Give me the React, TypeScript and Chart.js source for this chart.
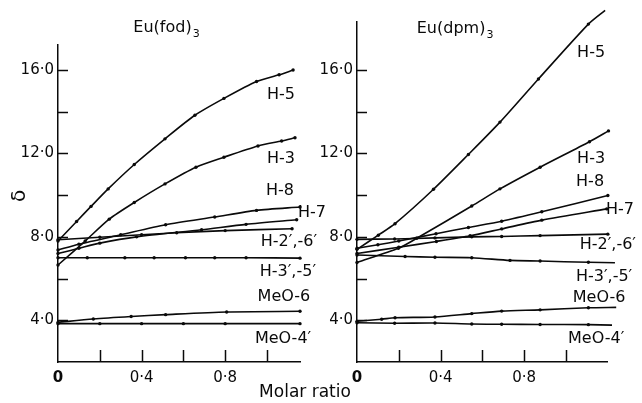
import React, { useEffect, useRef } from 'react';
import { Chart, registerables } from 'chart.js';
Chart.register(...registerables);

// ---------- series names ----------
const SERIES = ['H-5', 'H-3', 'H-8', 'H-7', 'H-2′,-6′', 'H-3′,-5′', 'MeO-6', 'MeO-4′'];

// ---------- Eu(fod)3 panel data: [molar ratio, delta] ----------
const FOD_H5: [number, number][] = [[0, 7.8], [0.089, 8.74], [0.158, 9.46], [0.24, 10.3], [0.365, 11.47], [0.512, 12.7], [0.655, 13.83], [0.794, 14.64], [0.95, 15.45], [1.058, 15.77], [1.125, 16.0]];
const FOD_H3: [number, number][] = [[0, 6.65], [0.13, 7.8], [0.245, 8.85], [0.365, 9.65], [0.512, 10.54], [0.66, 11.34], [0.794, 11.82], [0.957, 12.36], [1.07, 12.6], [1.134, 12.75]];
const FOD_H8: [number, number][] = [[0, 7.37], [0.1, 7.65], [0.3, 8.1], [0.515, 8.58], [0.75, 8.95], [0.95, 9.27], [1.158, 9.43]];
const FOD_H7: [number, number][] = [[0, 7.2], [0.1, 7.45], [0.2, 7.7], [0.376, 8.0], [0.687, 8.34], [0.9, 8.6], [1.142, 8.82]];
const FOD_H26: [number, number][] = [[0, 7.86], [0.2, 7.98], [0.4, 8.1], [0.568, 8.2], [0.8, 8.3], [1.12, 8.39]];
const FOD_H35: [number, number][] = [[0, 7.0], [0.14, 7.0], [0.32, 7.0], [0.46, 7.0], [0.61, 7.0], [0.75, 7.0], [0.9, 7.0], [1.158, 6.98]];
const FOD_MEO6: [number, number][] = [[0, 3.9], [0.169, 4.06], [0.35, 4.18], [0.515, 4.27], [0.807, 4.4], [1.158, 4.43]];
const FOD_MEO4: [number, number][] = [[0, 3.84], [0.2, 3.84], [0.4, 3.84], [0.6, 3.84], [0.8, 3.84], [1.158, 3.84]];

// ---------- Eu(dpm)3 panel data ----------
const DPM_H5: [number, number][] = [[0, 7.4], [0.102, 8.08], [0.182, 8.63], [0.366, 10.28], [0.533, 11.95], [0.684, 13.5], [0.868, 15.57], [1.107, 18.2], [1.187, 18.86]];
const DPM_H3: [number, number][] = [[0, 6.77], [0.198, 7.45], [0.286, 7.93], [0.549, 9.48], [0.684, 10.3], [0.876, 11.34], [1.112, 12.56], [1.203, 13.08]];
const DPM_H8: [number, number][] = [[0, 7.45], [0.1, 7.62], [0.2, 7.8], [0.378, 8.15], [0.533, 8.45], [0.692, 8.75], [0.884, 9.2], [1.2, 9.98]];
const DPM_H7: [number, number][] = [[0, 7.2], [0.2, 7.5], [0.38, 7.78], [0.541, 8.05], [0.692, 8.38], [0.884, 8.8], [1.195, 9.34]];
const DPM_H26: [number, number][] = [[0, 7.88], [0.18, 7.9], [0.373, 7.95], [0.549, 8.0], [0.692, 8.02], [0.876, 8.06], [1.2, 8.13]];
const DPM_H35: [number, number][] = [[0, 7.13], [0.23, 7.06], [0.373, 7.02], [0.549, 7.0], [0.732, 6.87], [0.876, 6.84], [1.107, 6.78], [1.234, 6.76]];
const DPM_MEO6: [number, number][] = [[0, 3.95], [0.118, 4.05], [0.182, 4.12], [0.373, 4.16], [0.549, 4.32], [0.692, 4.44], [0.876, 4.5], [1.107, 4.6], [1.24, 4.62]];
const DPM_MEO4: [number, number][] = [[0, 3.88], [0.18, 3.86], [0.373, 3.87], [0.549, 3.82], [0.692, 3.81], [0.876, 3.8], [1.107, 3.79], [1.22, 3.77]];

// ---------- ticks ----------
const Y_LABEL_TICKS = [4, 8, 12, 16];
const Y_MARK_TICKS = [4, 6, 8, 10, 12, 14, 16];
const X_LABEL_TICKS = [0, 0.4, 0.8];
const X_MARK_TICKS = [0.2, 0.4, 0.6, 0.8, 1.0];

// ---------- label anchors (data coords) ----------
const FOD_LABEL_X = [1.067, 1.067, 1.062, 1.215, 1.105, 1.1, 1.081, 1.077];
const FOD_LABEL_Y = [14.82, 11.74, 10.2, 9.14, 7.75, 6.31, 5.11, 3.13];
const DPM_LABEL_X = [1.12, 1.12, 1.115, 1.258, 1.2, 1.182, 1.158, 1.144];
const DPM_LABEL_Y = [16.84, 11.74, 10.63, 9.29, 7.6, 6.07, 5.06, 3.13];

const FONT = '"DejaVu Sans", sans-serif';
const INK = '#0a0a0a';

interface Panel {
  key: string;
  title: string;
  series: [number, number][][];
  xMax: number;
  yMax: number;
  padding: { left: number; right: number; top: number; bottom: number };
  labelX: number[];
  labelY: number[];
  titleX: number;
  titleY: number;
  extras: boolean;
}

const PANELS: Panel[] = [
  {
    key: 'fod', title: 'Eu(fod)',
    series: [FOD_H5, FOD_H3, FOD_H8, FOD_H7, FOD_H26, FOD_H35, FOD_MEO6, FOD_MEO4],
    xMax: 1.158, yMax: 17.2,
    padding: { left: 0, right: 342, top: 45, bottom: 0 },
    labelX: FOD_LABEL_X, labelY: FOD_LABEL_Y, titleX: 0.5, titleY: 18.04, extras: true,
  },
  {
    key: 'dpm', title: 'Eu(dpm)',
    series: [DPM_H5, DPM_H3, DPM_H8, DPM_H7, DPM_H26, DPM_H35, DPM_MEO6, DPM_MEO4],
    xMax: 1.196, yMax: 18.3,
    padding: { left: 299, right: 35, top: 22, bottom: 0 },
    labelX: DPM_LABEL_X, labelY: DPM_LABEL_Y, titleX: 0.45, titleY: 17.99, extras: false,
  },
];

function fmt(v: number): string {
  if (v === 0) return '0';
  return v.toFixed(1).replace('.', '·');
}

function makeChart(canvas: HTMLCanvasElement, p: Panel) {
  const annot = {
    id: 'annot_' + p.key,
    afterDraw(chart: any) {
      const { ctx, chartArea, scales } = chart;
      const xs = scales.x, ys = scales.y;
      ctx.save();
      ctx.strokeStyle = INK;
      ctx.lineWidth = 1.5;
      for (const v of Y_MARK_TICKS) {
        const py = Math.round(ys.getPixelForValue(v)) + 0.5;
        ctx.beginPath();
        ctx.moveTo(chartArea.left, py);
        ctx.lineTo(chartArea.left + 10, py);
        ctx.stroke();
      }
      for (const v of X_MARK_TICKS) {
        const px = Math.round(xs.getPixelForValue(v)) + 0.5;
        ctx.beginPath();
        ctx.moveTo(px, chartArea.bottom);
        ctx.lineTo(px, chartArea.bottom - 12);
        ctx.stroke();
      }
      ctx.fillStyle = INK;
      ctx.textAlign = 'center';
      ctx.textBaseline = 'middle';
      ctx.font = '16px ' + FONT;
      SERIES.forEach((t, i) => {
        ctx.fillText(t, xs.getPixelForValue(p.labelX[i]), ys.getPixelForValue(p.labelY[i]));
      });
      // title with subscript
      const tx = xs.getPixelForValue(p.titleX);
      const ty = ys.getPixelForValue(p.titleY);
      ctx.font = '16px ' + FONT;
      const w = ctx.measureText(p.title).width;
      ctx.textAlign = 'left';
      ctx.fillText(p.title, tx - w / 2, ty);
      ctx.font = '11px ' + FONT;
      ctx.fillText('3', tx + w / 2 + 1, ty + 7);
      if (p.extras) {
        ctx.font = '17px ' + FONT;
        ctx.textAlign = 'center';
        ctx.fillText('Molar ratio', chartArea.right + 5, chartArea.bottom + 31);
        ctx.save();
        ctx.translate(20, 196);
        ctx.rotate(-Math.PI / 2);
        ctx.font = '20px ' + FONT;
        ctx.fillText('δ', 0, 0);
        ctx.restore();
      }
      ctx.restore();
    },
  };

  return new Chart(canvas, {
    type: 'line',
    data: {
      datasets: p.series.map((s, i) => ({
        label: SERIES[i],
        data: s.map(([x, y]) => ({ x, y })),
        borderColor: INK,
        backgroundColor: INK,
        borderWidth: 1.6,
        pointRadius: 1.7,
        pointBorderWidth: 0,
        pointBackgroundColor: INK,
        tension: 0.25,
        clip: false as any,
        fill: false,
      })),
    },
    options: {
      animation: false,
      responsive: false,
      events: [],
      layout: { autoPadding: false, padding: p.padding } as any,
      plugins: { legend: { display: false }, tooltip: { enabled: false } },
      scales: {
        x: {
          type: 'linear', min: 0, max: p.xMax,
          grid: { display: false, drawTicks: false },
          border: { display: true, color: INK, width: 1.5 },
          afterBuildTicks: (s: any) => { s.ticks = X_LABEL_TICKS.map((v) => ({ value: v })); },
          afterFit: (s: any) => { s.height = 41; },
          ticks: {
            padding: 7,
            color: INK,
            maxRotation: 0,
            autoSkip: false,
            font: (c: any) => ({ family: FONT, size: 15, weight: c.tick && c.tick.value === 0 ? 'bold' : 'normal' }),
            callback: (v: any) => fmt(Number(v)),
          },
        },
        y: {
          type: 'linear', min: 2, max: p.yMax,
          grid: { display: false, drawTicks: false },
          border: { display: true, color: INK, width: 1.5 },
          afterBuildTicks: (s: any) => { s.ticks = Y_LABEL_TICKS.map((v) => ({ value: v })); },
          afterFit: (s: any) => { s.width = 58; },
          ticks: {
            padding: 4,
            color: INK,
            autoSkip: false,
            font: { family: FONT, size: 15 },
            callback: (v: any) => fmt(Number(v)),
          },
        },
      },
    } as any,
    plugins: [annot],
  });
}

export default function App() {
  const leftRef = useRef<HTMLCanvasElement>(null);
  const rightRef = useRef<HTMLCanvasElement>(null);
  useEffect(() => {
    const a = makeChart(leftRef.current!, PANELS[0]);
    const b = makeChart(rightRef.current!, PANELS[1]);
    return () => { a.destroy(); b.destroy(); };
  }, []);
  const cs: React.CSSProperties = { position: 'absolute', left: 0, top: 0 };
  return (
    <div style={{ position: 'absolute', left: 0, top: 0, width: 642, height: 403, background: '#fff', overflow: 'hidden' }}>
      <canvas ref={leftRef} width={642} height={403} style={cs} />
      <canvas ref={rightRef} width={642} height={403} style={cs} />
    </div>
  );
}
